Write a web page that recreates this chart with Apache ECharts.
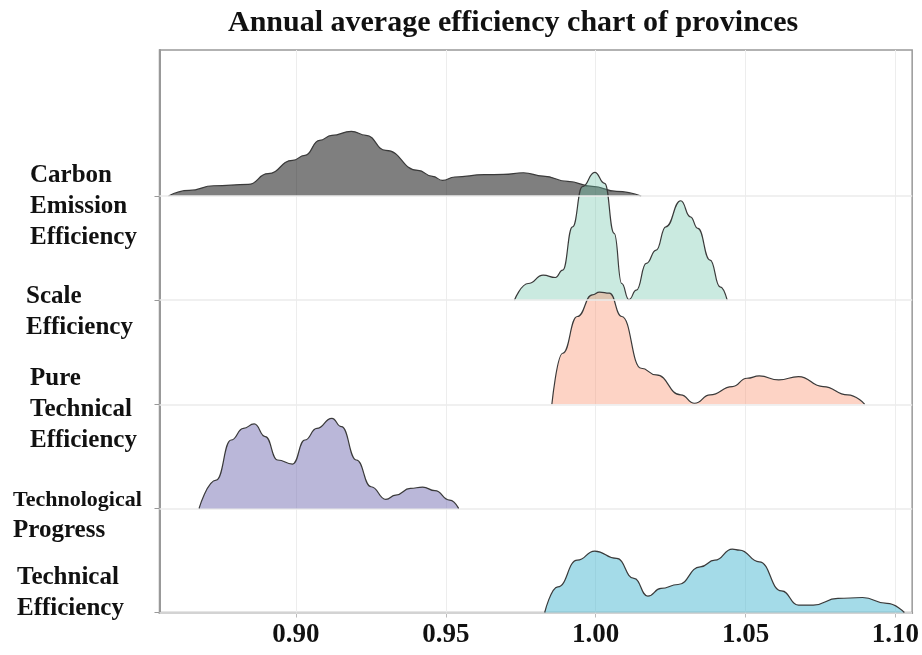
<!DOCTYPE html>
<html>
<head>
<meta charset="utf-8">
<title>Annual average efficiency chart of provinces</title>
<script src="https://cdn.jsdelivr.net/npm/echarts@6/dist/echarts.min.js"></script>
<style>
  html, body { margin: 0; padding: 0; background: #fff; }
  #main { width: 922px; height: 655px; }
</style>
</head>
<body>
<div id="main"></div>
<script>
// rows, top to bottom
const categories = [
  'Carbon\nEmission\nEfficiency',
  'Scale\nEfficiency',
  'Pure\nTechnical\nEfficiency',
  'Technological\nProgress',
  'Technical\nEfficiency'
]
const xTicks = [0.90, 0.95, 1.00, 1.05, 1.10]

// density curves (x value, height in row units)
const carbonX = [0.8575, 0.8644, 0.8726, 0.8841, 0.8907, 0.8989, 0.9030, 0.9079, 0.9120, 0.9185, 0.9234, 0.9300,
  0.9407, 0.9456, 0.9489, 0.9530, 0.9628, 0.9693, 0.9759, 0.9825, 0.9907, 0.9989, 1.0070, 1.0152]
const carbonH = [0, 0.054, 0.099, 0.112, 0.215, 0.343, 0.391, 0.535, 0.583, 0.622, 0.583, 0.439,
  0.247, 0.189, 0.151, 0.183, 0.205, 0.208, 0.224, 0.192, 0.141, 0.093, 0.045, 0]

const scaleX = [0.9729, 0.9775, 0.9825, 0.9866, 0.9890, 0.9923, 0.9956, 0.9997, 1.0030, 1.0062, 1.0087, 1.0111,
  1.0136, 1.0169, 1.0202, 1.0234, 1.0284, 1.0316, 1.0341, 1.0382, 1.0415, 1.0439]
const scaleH = [0, 0.160, 0.240, 0.218, 0.288, 0.705, 1.090, 1.228, 1.122, 0.641, 0.160, 0.006,
  0.096, 0.353, 0.481, 0.705, 0.955, 0.801, 0.689, 0.385, 0.128, 0]

const pureX = [0.9854, 0.9890, 0.9939, 0.9989, 1.0013, 1.0046, 1.0087, 1.0152, 1.0202, 1.0284, 1.0330, 1.0382,
  1.0456, 1.0505, 1.0546, 1.0611, 1.0677, 1.0759, 1.0841, 1.0898]
const pureH = [0, 0.490, 0.843, 1.051, 1.077, 1.067, 0.843, 0.346, 0.282, 0.090, 0.010, 0.090,
  0.170, 0.250, 0.272, 0.234, 0.266, 0.170, 0.090, 0]

const progressX = [0.8677, 0.8734, 0.8784, 0.8825, 0.8861, 0.8898, 0.8939, 0.8989, 0.9030, 0.9070, 0.9120, 0.9152,
  0.9202, 0.9251, 0.9300, 0.9333, 0.9382, 0.9423, 0.9464, 0.9513, 0.9543]
const progressH = [0, 0.272, 0.657, 0.769, 0.811, 0.689, 0.465, 0.426, 0.657, 0.769, 0.865, 0.785,
  0.465, 0.208, 0.087, 0.128, 0.192, 0.205, 0.170, 0.080, 0]

const techX = [0.9830, 0.9874, 0.9939, 0.9997, 1.0070, 1.0128, 1.0174, 1.0218, 1.0275, 1.0349, 1.0398, 1.0456,
  1.0480, 1.0546, 1.0620, 1.0677, 1.0726, 1.0808, 1.0890, 1.0972, 1.1030]
const techH = [0, 0.247, 0.503, 0.590, 0.519, 0.327, 0.157, 0.231, 0.269, 0.439, 0.503, 0.609,
  0.599, 0.487, 0.208, 0.071, 0.071, 0.135, 0.144, 0.087, 0]

const curves = [
  [carbonX, carbonH],
  [scaleX, scaleH],
  [pureX, pureH],
  [progressX, progressH],
  [techX, techH]
]

// styling
const fills = ['rgba(0,0,0,0.5)', 'rgba(102,194,165,0.35)', 'rgba(250,145,110,0.4)',
  'rgba(117,112,179,0.5)', 'rgba(74,183,209,0.5)']
const labelNudge = [-0.096, -0.11, -0.048, -0.067, 0.183]
const labelIndent = [17, 13, 17, 0, 4]
const serif = '"Liberation Serif", "Times New Roman", serif'

const nRows = categories.length
const baseOf = i => nRows - 1 - i

const series = curves.map(([xs, hs], i) => {
  const base = baseOf(i)
  return {
    type: 'line',
    name: categories[i],
    smooth: 0.5,
    smoothMonotone: 'x',
    showSymbol: false,
    silent: true,
    data: xs.map((x, k) => [x, base + hs[k]]),
    lineStyle: {color: '#3a3a3a', width: 1.2},
    areaStyle: {color: fills[i], origin: base, opacity: 1},
    markLine: {
      silent: true,
      symbol: 'none',
      label: {show: false},
      lineStyle: {color: '#ebebeb', width: 1.5, type: 'solid'},
      data: [{yAxis: base}]
    },
    z: 2 + i
  }
})

const rich = {}
categories.forEach((c, i) => {
  rich['r' + i] = {fontFamily: serif, fontWeight: 'bold', fontSize: 25, lineHeight: 31,
    color: '#111', padding: [0, 0, 0, labelIndent[i]]}
})
rich.small = {fontFamily: serif, fontWeight: 'bold', fontSize: 22, lineHeight: 31, color: '#111'}

const labelValues = categories.map((c, i) => baseOf(i) + labelNudge[i])

const chart = echarts.init(document.getElementById('main'))
chart.setOption({
  animation: false,
  backgroundColor: '#fff',
  title: {
    text: 'Annual average efficiency chart of provinces',
    left: 228,
    top: 8,
    padding: 0,
    textStyle: {fontFamily: serif, fontWeight: 'bold', fontSize: 30, color: '#111'}
  },
  grid: {
    left: 159.5, right: 9.5, top: 50, bottom: 42.5,
    show: true, borderColor: '#999', borderWidth: 1.5, backgroundColor: 'transparent'
  },
  xAxis: {
    type: 'value',
    min: 0.8545,
    max: 1.1056,
    axisLine: {lineStyle: {color: '#8c8c8c', width: 2}},
    axisTick: {length: 5, customValues: xTicks, lineStyle: {color: '#bbb'}},
    splitLine: {show: true, lineStyle: {color: '#ededed', width: 1}},
    axisLabel: {
      customValues: xTicks,
      margin: 9,
      fontFamily: serif, fontWeight: 'bold', fontSize: 27, color: '#111',
      formatter: v => v.toFixed(2)
    }
  },
  yAxis: {
    type: 'value',
    min: 0,
    max: 5.403,
    axisLine: {show: true, lineStyle: {color: '#999', width: 2}},
    splitLine: {show: false},
    axisTick: {show: true, length: 5, customValues: [0, 1, 2, 3, 4], lineStyle: {color: '#999'}},
    axisLabel: {
      customValues: labelValues,
      align: 'left',
      margin: 146.5,
      rich: rich,
      formatter: v => {
        const i = nRows - 1 - Math.round(v)
        const lines = categories[i].split('\n')
        return lines.map((t, k) => (i === 3 && k === 0) ? '{small|' + t + '}' : '{r' + i + '|' + t + '}').join('\n')
      }
    }
  },
  series: series
})
</script>
</body>
</html>
